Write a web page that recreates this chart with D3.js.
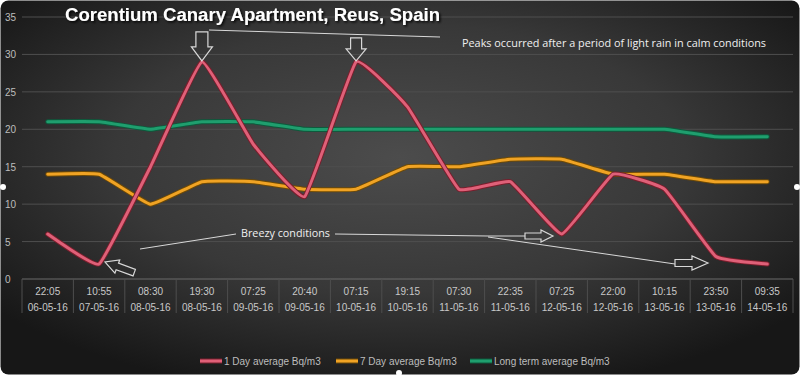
<!DOCTYPE html>
<html><head><meta charset="utf-8">
<script src="https://cdn.jsdelivr.net/npm/d3@7"></script>
<style>html,body{margin:0;padding:0;background:#fff;}svg{display:block;}</style>
</head><body>
<svg id="chart" width="800" height="375"></svg>
<script>
const times = ["22:05","10:55","08:30","19:30","07:25","20:40","07:15","19:15","07:30","22:35","07:25","22:00","10:15","23:50","09:35"];
const dates = ["06-05-16","07-05-16","08-05-16","08-05-16","09-05-16","09-05-16","10-05-16","10-05-16","11-05-16","11-05-16","12-05-16","12-05-16","13-05-16","13-05-16","14-05-16"];
const day1 = [6,2,15,29,18,11,29,23,12,13,6,14,12,3,2];
const day7 = [14,14,10,13,13,12,12,15,15,16,16,14,14,13,13];
const longTerm = [21,21,20,21,21,20,20,20,20,20,20,20,20,19,19];
const yTicks = [0,5,10,15,20,25,30,35];
const seriesNames = ["1 Day average Bq/m3","7 Day average Bq/m3","Long term average Bq/m3"];

const svg = d3.select("#chart");
const W = 800, H = 375;
const defs = svg.append("defs");
const rg = defs.append("radialGradient").attr("id","bg").attr("cx","0.5").attr("cy","0.42").attr("r","0.65");
rg.append("stop").attr("offset","0%").attr("stop-color","#4c4c4c");
rg.append("stop").attr("offset","55%").attr("stop-color","#383838");
rg.append("stop").attr("offset","100%").attr("stop-color","#171717");
const sh = defs.append("filter").attr("id","tshadow").attr("x","-5%").attr("y","-20%").attr("width","110%").attr("height","160%");
sh.append("feDropShadow").attr("dx",1.5).attr("dy",1.5).attr("stdDeviation",1).attr("flood-color","#000").attr("flood-opacity",0.9);

svg.append("rect").attr("x",0).attr("y",0).attr("width",W).attr("height",H).attr("fill","#fff");
svg.append("rect").attr("x",0.5).attr("y",0.5).attr("width",W-1).attr("height",H-1).attr("rx",8).attr("fill","url(#bg)");

const x = d3.scaleBand().domain(d3.range(times.length)).range([22,793]);
const y = d3.scaleLinear().domain([0,35]).range([279,17]);

// grid
svg.append("g").selectAll("line").data(yTicks).join("line")
  .attr("x1",22).attr("x2",793).attr("y1",d=>y(d)).attr("y2",d=>y(d))
  .attr("stroke",d=>d===0?"#6a6a6a":"#4e4e4e").attr("stroke-width",1);

// y labels
svg.append("g").selectAll("text").data(yTicks).join("text")
  .attr("x",5).attr("y",d=>y(d)+4).text(d=>d)
  .attr("font-family","Liberation Sans, Arial, sans-serif").attr("font-size",10).attr("fill","#bdbdbd");

// x axis separators and labels
const xs = d3.range(times.length+1).map(i=> i<times.length ? x(i) : x(times.length-1)+x.bandwidth());
svg.append("g").selectAll("line").data(xs).join("line")
  .attr("x1",d=>d).attr("x2",d=>d).attr("y1",279).attr("y2",313)
  .attr("stroke","#4e4e4e").attr("stroke-width",1);
const xl = svg.append("g").attr("font-family","Liberation Sans, Arial, sans-serif").attr("font-size",10).attr("fill","#c8c8c8").attr("text-anchor","middle");
xl.selectAll("text.t").data(times).join("text").attr("class","t")
  .attr("x",(d,i)=>x(i)+x.bandwidth()/2).attr("y",295).text(d=>d);
xl.selectAll("text.d").data(dates).join("text").attr("class","d")
  .attr("x",(d,i)=>x(i)+x.bandwidth()/2).attr("y",311).text(d=>d);

// lines
const line = d3.line().x((d,i)=>x(i)+x.bandwidth()/2).y(d=>y(d)).curve(d3.curveCardinal.tension(0.7));
const styles = [
  {data:day1, edge:"#7a1e2c", core:"#df6078"},
  {data:day7, edge:"#6e4a06", core:"#f0a324"},
  {data:longTerm, edge:"#0d5a3c", core:"#1f9e6e"}
];
const lg = svg.append("g");
[2,1,0].forEach(k=>{
  const s = styles[k];
  lg.append("path").attr("d",line(s.data)).attr("fill","none").attr("stroke",s.edge).attr("stroke-width",5).attr("stroke-linejoin","round").attr("stroke-linecap","round");
  lg.append("path").attr("d",line(s.data)).attr("fill","none").attr("stroke",s.core).attr("stroke-width",3).attr("stroke-linejoin","round").attr("stroke-linecap","round");
});

// title
svg.append("text").attr("x",65).attr("y",21).text("Corentium Canary Apartment, Reus, Spain")
  .attr("font-family","Liberation Sans, Arial, sans-serif").attr("font-weight","bold").attr("font-size",18)
  .attr("fill","#fff").attr("filter","url(#tshadow)").attr("textLength",375).attr("lengthAdjust","spacingAndGlyphs");

// annotations
const ann = svg.append("g").attr("font-family","Open Sans, sans-serif").attr("fill","#f0f0f0").attr("font-size",11);
ann.append("text").attr("x",462).attr("y",47).text("Peaks occurred after a period of light rain in calm conditions")
  .attr("textLength",304).attr("lengthAdjust","spacingAndGlyphs");
ann.append("text").attr("x",241).attr("y",237).text("Breezy conditions")
  .attr("textLength",89).attr("lengthAdjust","spacingAndGlyphs");

const aline = svg.append("g").attr("stroke","#d8d8d8").attr("stroke-width",1).attr("fill","none");
aline.append("line").attr("x1",209).attr("y1",30).attr("x2",440).attr("y2",37);
aline.append("line").attr("x1",140).attr("y1",249).attr("x2",236).attr("y2",234);
aline.append("polyline").attr("points","335,234 488,236 525,236");
aline.append("line").attr("x1",488).attr("y1",237).attr("x2",675).attr("y2",264);

// block arrows
function blockArrow(tx,ty,angleDeg,len,bodyW,headW,headL){
  const pts = [[0,0],[-headL,-headW/2],[-headL,-bodyW/2],[-len,-bodyW/2],[-len,bodyW/2],[-headL,bodyW/2],[-headL,headW/2]];
  svg.append("polygon").attr("points",pts.map(p=>p.join(",")).join(" "))
    .attr("transform",`translate(${tx},${ty}) rotate(${angleDeg})`)
    .attr("fill","none").attr("stroke","#d8d8d8").attr("stroke-width",1.2).attr("stroke-linejoin","miter");
}
const pk1 = [x(3)+x.bandwidth()/2, y(day1[3])];
const pk2 = [x(6)+x.bandwidth()/2, y(day1[6])];
blockArrow(pk1[0], pk1[1]-1, 90, 29, 12, 21, 14);
blockArrow(pk2[0], pk2[1]-1, 90, 23, 11, 20, 12);
blockArrow(x(1)+x.bandwidth()/2+6, y(day1[1])-2, 200, 31, 7, 14, 13);
blockArrow(553, 236, 0, 28, 6, 12, 12);
blockArrow(708, 263, 0, 33, 7, 14, 16);

// legend
const leg = svg.append("g").attr("font-family","Liberation Sans, Arial, sans-serif").attr("font-size",10).attr("fill","#bdbdbd");
const legX = [200,336,470];
seriesNames.forEach((n,i)=>{
  leg.append("line").attr("x1",legX[i]).attr("x2",legX[i]+22).attr("y1",361).attr("y2",361).attr("stroke",styles[i].edge).attr("stroke-width",5);
  leg.append("line").attr("x1",legX[i]).attr("x2",legX[i]+22).attr("y1",361).attr("y2",361).attr("stroke",styles[i].core).attr("stroke-width",3);
  leg.append("text").attr("x",legX[i]+24).attr("y",364.5).text(n);
});

// selection handles
[[3,187],[797,187],[399,373]].forEach(p=>svg.append("circle").attr("cx",p[0]).attr("cy",p[1]).attr("r",3).attr("fill","#fff"));
</script>
</body></html>
